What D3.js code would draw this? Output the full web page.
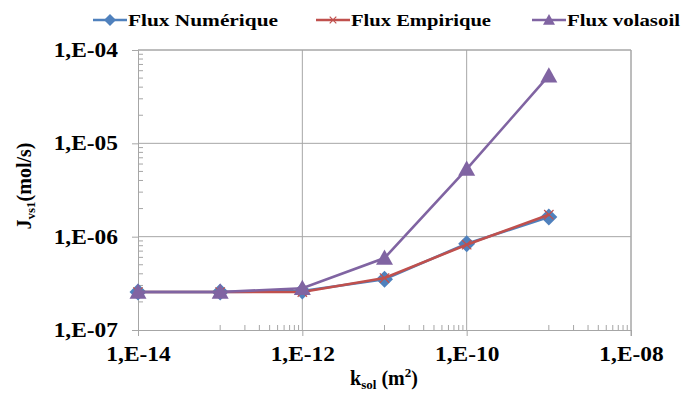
<!DOCTYPE html>
<html>
<head>
<meta charset="utf-8">
<script src="https://cdn.jsdelivr.net/npm/d3@7"></script>
<style>
  body { margin: 0; background: #fff; }
</style>
</head>
<body>
<svg id="chart" width="681" height="394"></svg>
<script>
// data
let kValues = [1e-14, 1e-13, 1e-12, 1e-11, 1e-10, 1e-9];
let fluxNum = [2.55e-7, 2.55e-7, 2.62e-7, 3.5e-7, 8.4e-7, 1.62e-6];
let fluxEmp = [2.55e-7, 2.55e-7, 2.55e-7, 3.6e-7, 8.2e-7, 1.72e-6];
let fluxVol = [2.55e-7, 2.55e-7, 2.8e-7, 5.9e-7, 5.3e-6, 5.3e-5];
let seriesNames = ["Flux Numérique", "Flux Empirique", "Flux volasoil"];
let xTicks = [1e-14, 1e-12, 1e-10, 1e-8];
let xTickLabels = ["1,E-14", "1,E-12", "1,E-10", "1,E-08"];
let yTicks = [1e-7, 1e-6, 1e-5, 1e-4];
let yTickLabels = ["1,E-07", "1,E-06", "1,E-05", "1,E-04"];

let chart = d3.select("#chart");
let pLeft = 138, pTop = 50, pRight = 631, pBottom = 330;
let serif = "'Liberation Serif', 'Times New Roman', serif";

//x,y scales
let x = d3.scaleLog().domain([1e-14, 1e-8]).range([pLeft, pRight]);
let y = d3.scaleLog().domain([1e-7, 1e-4]).range([pBottom, pTop]);

let gridColor = "#a6a6a6";

// stretch text a bit wider like the original picture
function widen(sel, factor) {
    sel.each(function() {
        let len = this.getComputedTextLength();
        d3.select(this).attr("textLength", len * factor).attr("lengthAdjust", "spacingAndGlyphs");
    });
}

// gridlines
let g = chart.append("g");
g.selectAll(".vgrid")
    .data(xTicks.slice(1))
    .enter()
    .append("line")
      .attr("x1", d => x(d)).attr("x2", d => x(d))
      .attr("y1", pTop).attr("y2", pBottom)
      .attr("stroke", gridColor).attr("stroke-width", 1);
g.selectAll(".hgrid")
    .data(yTicks.slice(1))
    .enter()
    .append("line")
      .attr("x1", pLeft).attr("x2", pRight)
      .attr("y1", d => y(d)).attr("y2", d => y(d))
      .attr("stroke", gridColor).attr("stroke-width", 1);

// minor ticks (inside the plot)
let yMinor = [];
for (let e = -7; e < -4; e++) for (let m = 2; m <= 9; m++) yMinor.push(m * Math.pow(10, e));
let xMinor = [];
for (let e = -13; e < -8; e += 2) for (let m = 1; m <= 9; m++) xMinor.push(m * Math.pow(10, e));

g.selectAll(".ym")
    .data(yMinor)
    .enter()
    .append("line")
      .attr("x1", pLeft).attr("x2", pLeft + 5)
      .attr("y1", d => y(d)).attr("y2", d => y(d))
      .attr("stroke", gridColor);
g.selectAll(".xm")
    .data(xMinor)
    .enter()
    .append("line")
      .attr("x1", d => x(d)).attr("x2", d => x(d))
      .attr("y1", pBottom).attr("y2", pBottom - 5)
      .attr("stroke", gridColor);

// axes
let xAxis = chart.append("g")
    .attr("transform", "translate(0," + pBottom + ")")
    .call(d3.axisBottom(x).tickValues(xTicks).tickFormat((d, i) => xTickLabels[i]).tickSize(6).tickPadding(11));
let yAxis = chart.append("g")
    .attr("transform", "translate(" + pLeft + ",0)")
    .call(d3.axisLeft(y).tickValues(yTicks).tickFormat((d, i) => yTickLabels[i]).tickSize(6).tickPadding(14));

[xAxis, yAxis].forEach(a => {
    a.select(".domain").attr("stroke", gridColor);
    a.selectAll(".tick line").attr("stroke", gridColor);
    let t = a.selectAll("text")
        .style("font-family", serif)
        .style("font-weight", "bold")
        .style("font-size", "20px")
        .attr("fill", "#000");
    widen(t, 1.17);
});
// top + right border
chart.append("line").attr("x1", pLeft).attr("x2", pRight).attr("y1", pTop).attr("y2", pTop).attr("stroke", gridColor);
chart.append("line").attr("x1", pRight).attr("x2", pRight).attr("y1", pTop).attr("y2", pBottom + 6).attr("stroke", gridColor);

// axis titles
let xt = chart.append("text")
    .attr("x", 384).attr("y", 385)
    .attr("text-anchor", "middle")
    .style("font-family", serif).style("font-weight", "bold")
    .style("font-size", "20px");
xt.append("tspan").text("k");
xt.append("tspan").style("font-size", "13px").attr("dy", 4).text("sol");
xt.append("tspan").attr("dy", -4).text(" (m");
xt.append("tspan").style("font-size", "13px").attr("dy", -8).text("2");
xt.append("tspan").attr("dy", 8).text(")");

let yt = chart.append("text")
    .attr("transform", "translate(31," + 186 + ") rotate(-90)")
    .attr("text-anchor", "middle")
    .style("font-family", serif).style("font-weight", "bold")
    .style("font-size", "20px");
yt.append("tspan").text("J");
yt.append("tspan").style("font-size", "13px").attr("dy", 4).text("vs1");
yt.append("tspan").attr("dy", -4).text("(mol/s)");

// series
let colors = ["#4f81bd", "#c0504d", "#8064a2"];
let allSeries = [fluxNum, fluxEmp, fluxVol];
let line = d3.line()
    .x((d, i) => x(kValues[i]))
    .y(d => y(d));

let diamondPath = r => "M0," + (-r) + "L" + r + ",0L0," + r + "L" + (-r) + ",0Z";
let trianglePath = r => "M0," + (-r) + "L" + r + "," + (r * 0.8) + "L" + (-r) + "," + (r * 0.8) + "Z";
let crossPath = r => "M" + (-r) + "," + (-r) + "L" + r + "," + r + "M" + (-r) + "," + r + "L" + r + "," + (-r);

function marker(sel, k, r) {
    if (k == 0) sel.append("path").attr("d", diamondPath(r)).attr("fill", colors[0]);
    else if (k == 1) sel.append("path").attr("d", crossPath(r * 0.55)).attr("stroke", colors[1]).attr("stroke-width", 1.2).attr("fill", "none");
    else sel.append("path").attr("d", trianglePath(r)).attr("fill", colors[2]);
}

allSeries.forEach((s, k) => {
    chart.append("path")
        .datum(s)
        .attr("d", line)
        .attr("fill", "none")
        .attr("stroke", colors[k])
        .attr("stroke-width", 2.6);

    let pts = chart.selectAll(".pt" + k)
        .data(s)
        .enter()
        .append("g")
          .attr("transform", (d, i) => "translate(" + x(kValues[i]) + "," + y(d) + ")");
    marker(pts, k, 8.5);
});

// legend
let legendX = [93, 316, 532];
let legendW = [150, 140, 113];
let legend = chart.append("g").attr("transform", "translate(0,20)");
seriesNames.forEach((name, k) => {
    let lg = legend.append("g").attr("transform", "translate(" + legendX[k] + ",0)");
    lg.append("line").attr("x1", 0).attr("x2", 34).attr("y1", 0).attr("y2", 0)
        .attr("stroke", colors[k]).attr("stroke-width", 2.6);
    marker(lg.append("g").attr("transform", "translate(17,0)"), k, 6);
    lg.append("text")
        .attr("x", 35).attr("y", 6)
        .style("font-family", serif).style("font-weight", "bold")
        .style("font-size", "17px")
        .attr("textLength", legendW[k])
        .attr("lengthAdjust", "spacingAndGlyphs")
        .text(name);
});
</script>
</body>
</html>
